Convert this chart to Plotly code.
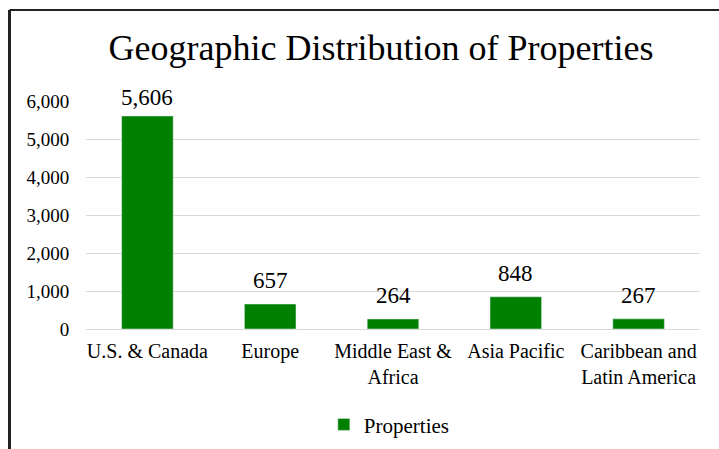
import plotly.graph_objects as go

categories = ["U.S. & Canada", "Europe", "Middle East &<br>Africa", "Asia Pacific", "Caribbean and<br>Latin America"]
properties = [5606, 657, 264, 848, 267]
tick_vals = [0, 1000, 2000, 3000, 4000, 5000, 6000]
tick_text = ["0", "1,000", "2,000", "3,000", "4,000", "5,000", "6,000"]

FONT = "Liberation Serif"
GREEN = "#008000"

fig = go.Figure()
fig.add_trace(go.Bar(
    x=categories, y=properties, name="Properties",
    marker_color=GREEN,
    cliponaxis=False,
))

# data labels above bars (top label is pushed down a bit, as in the original)
top_val = max(properties)
for cat, val in zip(categories, properties):
    fig.add_annotation(
        x=cat, y=val, text=f"{val:,}", showarrow=False,
        xanchor="center", yanchor="bottom", yshift=(4 if val == top_val else 9),
        font=dict(family=FONT, size=23, color="#000000"),
    )

fig.update_layout(
    width=719, height=449,
    margin=dict(l=86, r=19, t=101, b=120, autoexpand=False),
    paper_bgcolor="white", plot_bgcolor="white",
    title=dict(text="Geographic Distribution of Properties", x=0.53, xanchor="center",
               y=0.895, yanchor="middle",
               font=dict(family=FONT, size=36, color="#000000")),
    bargap=0.58,
    showlegend=True,
    legend=dict(orientation="h", x=0.494, xanchor="center", y=-0.33, yanchor="top",
                font=dict(family=FONT, size=21, color="#000000")),
    font=dict(family=FONT, color="#000000"),
)
fig.update_xaxes(showline=True, linecolor="#d9d9d9", tickfont=dict(family=FONT, size=20, color="#000000"),
                 ticks="", automargin=False, ticklabelstandoff=4)
fig.update_yaxes(range=[0, 6000], tickvals=tick_vals, ticktext=tick_text, gridcolor="#d9d9d9",
                 zeroline=False, tickfont=dict(family=FONT, size=19, color="#000000"),
                 ticks="outside", ticklen=12, tickcolor="rgba(0,0,0,0)", automargin=False)

# Chart frame (left and top border)
fig.add_shape(type="line", xref="paper", yref="paper", x0=-0.1246, x1=1.05, y0=1.399, y1=1.399,
              line=dict(color="#222222", width=2))
fig.add_shape(type="line", xref="paper", yref="paper", x0=-0.1246, x1=-0.1246, y0=1.399, y1=-0.55,
              line=dict(color="#222222", width=3))

fig.write_html("out.html", config={"displayModeBar": False},
               post_script="document.body.style.margin='0';")
